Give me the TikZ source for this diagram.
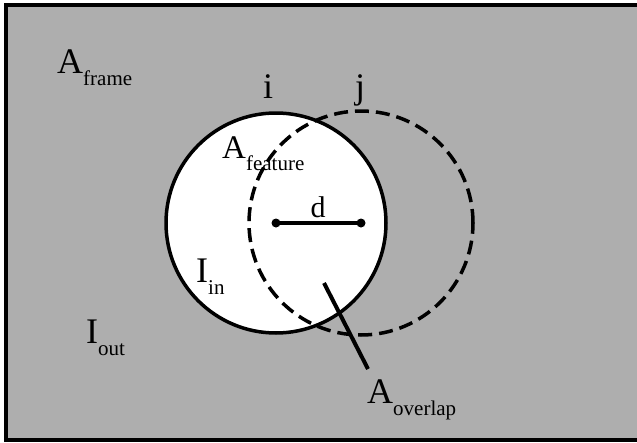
\documentclass[tikz,border=0pt]{standalone}
\usepackage{fontspec}
\setmainfont{Liberation Serif}
\usetikzlibrary{positioning}
\definecolor{framegray}{RGB}{174,174,174}
\newcommand{\bigsize}{\fontsize{36}{40}\selectfont}
\newcommand{\subtxt}[2]{#1\raisebox{-12pt}{\fontsize{21}{24}\selectfont #2}}

\begin{document}
\begin{tikzpicture}[x=1pt,y=-1pt,
    lbl/.style={inner sep=0pt, anchor=base west, font=\bigsize},
    ring/.style={circle, inner sep=0pt, minimum size=#1}]
    \useasboundingbox (0,0) rectangle (637,442);

    % frame
    \draw[fill=framegray, line width=4pt] (6,5) rectangle (680,440);

    % feature i and shifted feature j
    \node[ring=220pt, draw, fill=white, line width=3.5pt] (ci) at (276,223) {};
    \node[ring=224pt, draw, line width=3.5pt, dash pattern=on 14pt off 7pt] (cj) at (361,223) {};

    % distance
    \draw[line width=4.5pt] (ci.center) -- (cj.center);
    \fill (ci.center) circle (4.5pt) (cj.center) circle (4.5pt);
    \node[lbl, anchor=base, font=\fontsize{30}{34}\selectfont] (d) at (318,217) {d};

    % labels
    \node[lbl, anchor=base] (li) at (268,98) {i};
    \node[lbl, anchor=base] (lj) at (360,98) {j};
    \node[lbl] (aframe) at (57,73) {\subtxt{A}{frame}};
    \node[lbl, font=\fontsize{33}{36}\selectfont] (afeat) at (222,158) {\subtxt{A}{feature}};
    \node[lbl] (iin) at (196,282) {\subtxt{I}{in}};
    \node[lbl] (iout) at (86,343) {\subtxt{I}{out}};
    \node[lbl] (aover) at (367,403) {\subtxt{A}{overlap}};

    % pointer to overlap
    \coordinate (ovtip) at (324,283);
    \coordinate (ovend) at (368,369);
    \draw[line width=4pt] (ovtip) -- (ovend);
\end{tikzpicture}
\end{document}
